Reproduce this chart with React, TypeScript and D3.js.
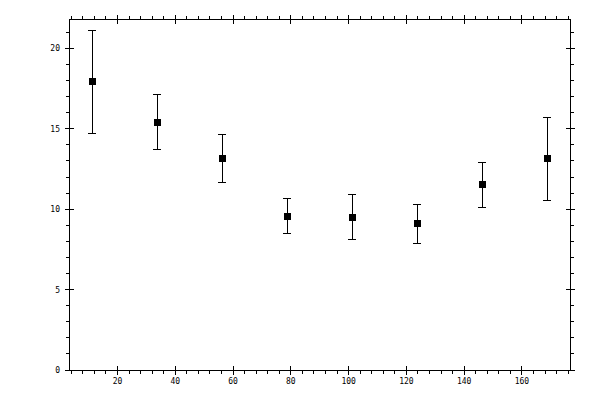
import * as d3 from 'd3';

const XS = [11.25, 33.75, 56.25, 78.75, 101.25, 123.75, 146.25, 168.75];
const YS = [17.95, 15.4, 13.18, 9.56, 9.5, 9.12, 11.55, 13.16];
const Y_LOW = [14.72, 13.74, 11.67, 8.5, 8.13, 7.88, 10.12, 10.57];
const Y_HIGH = [21.1, 17.15, 14.66, 10.68, 10.93, 10.3, 12.92, 15.71];

const X_MAJOR = [20, 40, 60, 80, 100, 120, 140, 160];
const Y_MAJOR = [0, 5, 10, 15, 20];

const W = 600;
const H = 400;
const left = 69.5, right = 570, top = 19, bottom = 370;

export default function App() {
  const x = d3.scaleLinear().domain([3.375, 176.625]).range([left, right]);
  const y = d3.scaleLinear().domain([0, 21.83]).range([bottom, top]);

  const xMinor = d3.range(4, 177, 4).filter((v) => v % 20 !== 0);
  const yMinor = d3.range(0, 22, 1).filter((v) => v % 5 !== 0);

  const font = "'DejaVu Sans Mono', monospace";
  const minorLen = 3.5;
  const majorLen = 4.5;

  return (
    <svg
      width={W}
      height={H}
      style={{ position: 'absolute', left: 0, top: 0, background: '#fff' }}
      shapeRendering="crispEdges"
    >
      <rect x={left} y={top} width={right - left} height={bottom - top} fill="none" stroke="#000" strokeWidth={1} />

      {/* x ticks, bottom and top */}
      {xMinor.map((v) => (
        <g key={'xm' + v} stroke="#000">
          <line x1={x(v)} x2={x(v)} y1={bottom} y2={bottom + minorLen} />
          <line x1={x(v)} x2={x(v)} y1={top} y2={top - minorLen} />
        </g>
      ))}
      {X_MAJOR.map((v) => (
        <g key={'xM' + v}>
          <line x1={x(v)} x2={x(v)} y1={bottom - majorLen} y2={bottom + majorLen} stroke="#000" />
          <line x1={x(v)} x2={x(v)} y1={top - majorLen} y2={top + majorLen} stroke="#000" />
          <text x={x(v)} y={384} textAnchor="middle" fontSize={8} fontFamily={font} fill="#000">
            {v}
          </text>
        </g>
      ))}

      {/* y ticks, left and right */}
      {yMinor.map((v) => (
        <g key={'ym' + v} stroke="#000">
          <line x1={left} x2={left - minorLen} y1={y(v)} y2={y(v)} />
          <line x1={right} x2={right + minorLen} y1={y(v)} y2={y(v)} />
        </g>
      ))}
      {Y_MAJOR.map((v) => (
        <g key={'yM' + v}>
          <line x1={left - majorLen} x2={left + majorLen} y1={y(v)} y2={y(v)} stroke="#000" />
          <line x1={right - majorLen} x2={right + majorLen} y1={y(v)} y2={y(v)} stroke="#000" />
          <text x={60} y={y(v) + 3} textAnchor="end" fontSize={8} fontFamily={font} fill="#000">
            {v}
          </text>
        </g>
      ))}

      {/* error bars + markers */}
      {XS.map((xv, i) => {
        const cx = x(xv);
        return (
          <g key={'p' + i}>
            <line x1={cx} x2={cx} y1={y(Y_LOW[i])} y2={y(Y_HIGH[i])} stroke="#000" />
            <line x1={cx - 4} x2={cx + 4} y1={y(Y_LOW[i])} y2={y(Y_LOW[i])} stroke="#000" />
            <line x1={cx - 4} x2={cx + 4} y1={y(Y_HIGH[i])} y2={y(Y_HIGH[i])} stroke="#000" />
            <rect x={cx - 3.5} y={y(YS[i]) - 3.5} width={7} height={7} fill="#000" />
          </g>
        );
      })}
    </svg>
  );
}
